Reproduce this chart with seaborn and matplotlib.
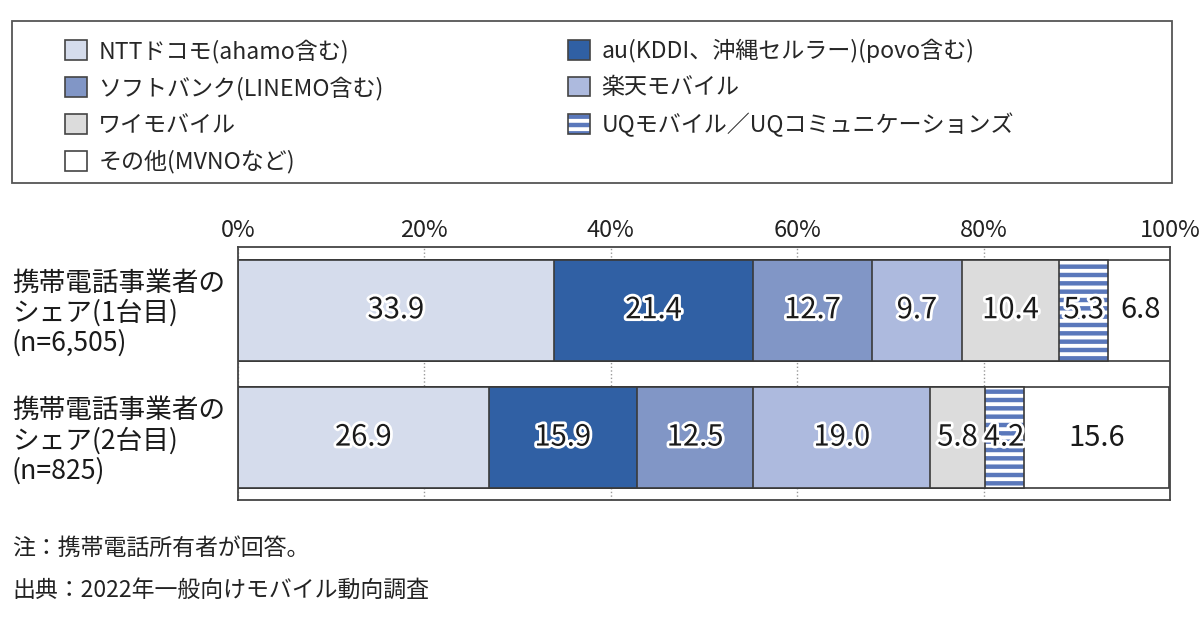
import numpy as np
import seaborn as sns
import matplotlib.pyplot as plt
import matplotlib.patheffects as pe
from matplotlib.patches import Patch, Rectangle
from matplotlib.transforms import blended_transform_factory

carriers = ['NTTドコモ(ahamo含む)', 'au(KDDI、沖縄セルラー)(povo含む)', 'ソフトバンク(LINEMO含む)',
            '楽天モバイル', 'ワイモバイル', 'UQモバイル／UQコミュニケーションズ', 'その他(MVNOなど)']
rows = ['携帯電話事業者の\nシェア(1台目)\n(n=6,505)', '携帯電話事業者の\nシェア(2台目)\n(n=825)']
share_1st = [33.9, 21.4, 12.7, 9.7, 10.4, 5.3, 6.8]
share_2nd = [26.9, 15.9, 12.5, 19.0, 5.8, 4.2, 15.6]
colors = ['#d5dcec', '#3060a4', '#8196c6', '#adbade', '#dcdcdc', '#5a78bb', '#ffffff']
hatches = [None, None, None, None, None, '--', None]
legend_order = [0, 2, 4, 6, 1, 3, 5]
xticks = [0, 20, 40, 60, 80, 100]

sns.set_style('white')
plt.rcParams['font.family'] = ['Noto Sans CJK JP', 'DejaVu Sans']
plt.rcParams['hatch.linewidth'] = 2.8

vals = np.array([share_1st, share_2nd])
cum = vals.cumsum(axis=1)

fig = plt.figure(figsize=(12, 6.2), dpi=100)
ax = fig.add_axes([238 / 1200, 1 - 500 / 620, 932 / 1200, 253 / 620])

edge = '#3a3a3a'
for i in reversed(range(len(carriers))):
    n0 = len(ax.patches)
    sns.barplot(x=cum[:, i], y=rows, orient='h', color=colors[i], saturation=1,
                width=0.79, edgecolor=edge, linewidth=1.2, hatch=hatches[i], ax=ax, zorder=2)
    if hatches[i]:
        for p in ax.patches[n0:]:
            p._hatch_color = (1, 1, 1, 1)

for r in range(len(rows)):
    for i in range(len(carriers)):
        x = cum[r, i] - vals[r, i] / 2
        effects = [] if colors[i] == '#ffffff' else [pe.withStroke(linewidth=4, foreground='white')]
        ax.text(x, r, f'{vals[r, i]:.1f}', ha='center', va='center', fontsize=21,
                color='#1a1a1a', path_effects=effects, zorder=5)

ax.set_xlim(0, 100)
ax.set_ylim(1.49, -0.497)
ax.set_xticks(xticks)
ax.set_xticklabels([f'{t}%' for t in xticks], fontsize=17, color='#222')
ax.xaxis.tick_top()
ax.tick_params(axis='x', length=0, pad=3.5)
ax.set_yticks([])
ax.set_xlabel('')
ax.set_ylabel('')
ax.grid(axis='x', linestyle=':', color='#999999', linewidth=1)
ax.set_axisbelow(True)
for s in ax.spines.values():
    s.set_visible(True)
    s.set_color('#444444')
    s.set_linewidth(1.3)

row_tf = blended_transform_factory(fig.transFigure, ax.transData)
for r, lab in enumerate(rows):
    ax.text(12 / 1200, r + 0.025, lab, transform=row_tf, ha='left', va='center',
            fontsize=19.2, color='#1a1a1a', linespacing=1.12)

handles = []
for k in legend_order:
    h = Patch(facecolor=colors[k], edgecolor='#444444', linewidth=1.2, hatch=hatches[k], label=carriers[k])
    if hatches[k]:
        h._hatch_color = (1, 1, 1, 1)
    handles.append(h)
leg = fig.legend(handles=handles, ncol=2, loc='upper left', bbox_to_anchor=(44 / 1200, 1 - 18 / 620),
                 frameon=False, fontsize=16.6, handlelength=0.95, handleheight=0.95,
                 handletextpad=0.5, labelspacing=0.58, columnspacing=8.0)
fig.patches.append(Rectangle((12 / 1200, 1 - 183 / 620), 1160 / 1200, 162 / 620,
                             transform=fig.transFigure, fill=False, edgecolor='#555555', linewidth=1.3))

fig.text(12 / 1200, 1 - 548 / 620, '注：携帯電話所有者が回答。', fontsize=16.5, va='center', color='#222')
fig.text(12 / 1200, 1 - 590 / 620, '出典：2022年一般向けモバイル動向調査', fontsize=16.5, va='center', color='#222')

fig.savefig('out.png', dpi=100)
